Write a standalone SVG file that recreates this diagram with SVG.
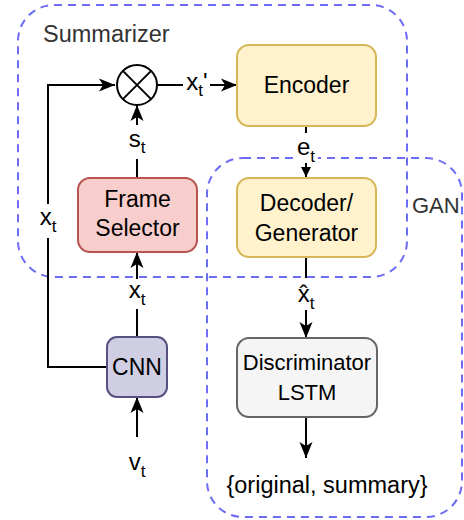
<svg xmlns="http://www.w3.org/2000/svg" width="464" height="520" viewBox="0 0 464 520">
<defs>
<style>
.cont{fill:none;stroke:#6c6cf5;stroke-width:2;stroke-dasharray:8 6}
.ctitle{font-family:"Liberation Sans",Arial,sans-serif;font-size:22px;fill:#333333}
.box{stroke-width:2}
.t{font-family:"Liberation Sans",Arial,sans-serif;font-size:23px;fill:#000;text-anchor:middle}
.lbl{font-family:"Liberation Sans",Arial,sans-serif;font-size:24px;fill:#000;text-anchor:middle}
.sub{font-size:17px}
.edge{fill:none;stroke:#000;stroke-width:2}
.bg{fill:#fff}
</style>
<marker id="arr" markerWidth="17" markerHeight="14" refX="16" refY="7" orient="auto" markerUnits="userSpaceOnUse">
<path d="M0,0.5 L16,7 L0,13.5 L4,7 Z" fill="#000"/>
</marker>
<marker id="arrs" markerWidth="11" markerHeight="10" refX="10" refY="5" orient="auto" markerUnits="userSpaceOnUse">
<path d="M0,0 L10,5 L0,10 Z" fill="#000"/>
</marker>
</defs>
<rect width="464" height="520" fill="#fff"/>

<g id="summarizer">
<rect class="cont" x="18" y="5" width="389" height="272" rx="36" ry="36"/>
<text class="ctitle" x="43" y="42" style="font-size:23.5px">Summarizer</text>
</g>
<g id="gan">
<rect class="cont" x="207" y="158" width="255" height="359" rx="36" ry="36"/>
<text class="ctitle" x="412" y="213">GAN</text>
</g>

<g id="connectors">
<path class="edge" d="M107,367 H48 V85 H115" marker-end="url(#arr)"/>
<path class="edge" d="M137,337 V252" marker-end="url(#arr)"/>
<path class="edge" d="M137,178 V105" marker-end="url(#arr)"/>
<path class="edge" d="M157,85 H237" marker-end="url(#arr)"/>
<path class="edge" d="M306,126 V177" marker-end="url(#arrs)"/>
<path class="edge" d="M306,257 V338" marker-end="url(#arr)"/>
<path class="edge" d="M306,417 V458" marker-end="url(#arr)"/>
<path class="edge" d="M137,437 V397" marker-end="url(#arr)"/>

<rect class="bg" x="36" y="204" width="24" height="34"/>
<text class="lbl" x="48" y="225">x<tspan class="sub" dy="7">t</tspan></text>

<rect class="bg" x="125" y="279" width="24" height="30"/>
<text class="lbl" x="137" y="298">x<tspan class="sub" dy="7">t</tspan></text>

<rect class="bg" x="125" y="125" width="24" height="34"/>
<text class="lbl" x="137" y="147">s<tspan class="sub" dy="6">t</tspan></text>

<rect class="bg" x="183" y="72" width="27" height="26"/>
<text class="lbl" x="197" y="90">x<tspan class="sub" dy="6">t</tspan><tspan dy="-6">'</tspan></text>

<rect class="bg" x="294" y="133" width="24" height="30"/>
<text class="lbl" x="306" y="155">e<tspan class="sub" dy="7">t</tspan></text>

<rect class="bg" x="294" y="278" width="24" height="32"/>
<text class="lbl" x="306" y="302">x̂<tspan class="sub" dy="7">t</tspan></text>

<text class="lbl" x="137" y="470">v<tspan class="sub" dy="7">t</tspan></text>
<text class="lbl" x="327" y="493" style="font-size:23.5px">{original, summary}</text>
</g>

<g id="mult">
<circle cx="137" cy="85" r="20" fill="#fff" stroke="#000" stroke-width="2"/>
<path d="M122.9,70.9 L151.1,99.1 M151.1,70.9 L122.9,99.1" stroke="#000" stroke-width="2"/>
</g>

<g id="encoder">
<rect class="box" x="237" y="45" width="139" height="81" rx="12" fill="#fff2cc" stroke="#d6b656"/>
<text class="t" x="306.5" y="93">Encoder</text>
</g>

<g id="decoder">
<rect class="box" x="237" y="178" width="139" height="79" rx="12" fill="#fff2cc" stroke="#d6b656"/>
<text class="t" x="306.5" y="211">Decoder/</text>
<text class="t" x="306.5" y="241">Generator</text>
</g>

<g id="frame-selector">
<rect class="box" x="78" y="178" width="119" height="74" rx="12" fill="#f8cecc" stroke="#b85450"/>
<text class="t" x="137.5" y="207">Frame</text>
<text class="t" x="137.5" y="236">Selector</text>
</g>

<g id="cnn">
<rect class="box" x="107" y="337" width="60" height="60" rx="10" fill="#d0cee2" stroke="#56517e"/>
<text class="t" x="137" y="375">CNN</text>
</g>

<g id="discriminator">
<rect class="box" x="237" y="338" width="140" height="79" rx="12" fill="#f5f5f5" stroke="#666666"/>
<text class="t" x="307" y="370" style="font-size:22px">Discriminator</text>
<text class="t" x="307" y="400" style="font-size:22px">LSTM</text>
</g>
</svg>
